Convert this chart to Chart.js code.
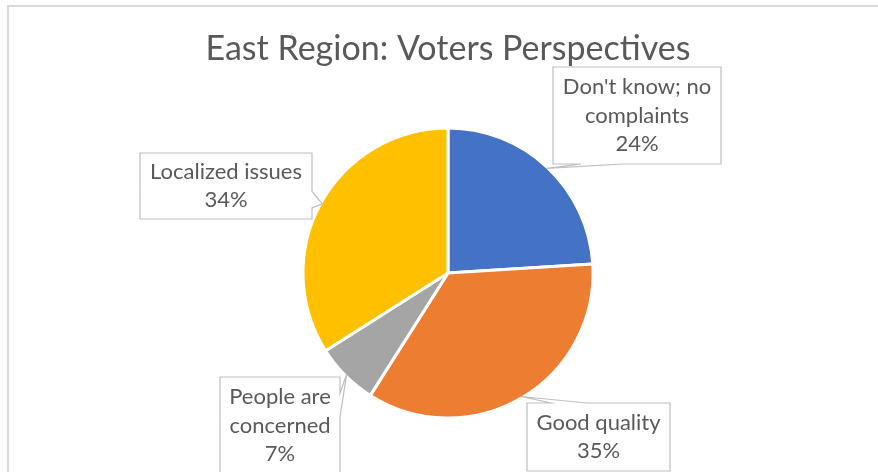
<!DOCTYPE html>
<html>
<head>
<meta charset="utf-8">
<title>East Region: Voters Perspectives</title>
<script src="https://cdn.jsdelivr.net/npm/chart.js@4/dist/chart.umd.min.js"></script>
<style>
  html, body { margin: 0; padding: 0; background: #ffffff; }
  #wrap { width: 878px; height: 472px; }
</style>
</head>
<body>
<div id="wrap"><canvas id="pie" width="878" height="472"></canvas></div>
<script>
// categories (wrapped the way the callouts show them) and shares
const categories = [
    ["Don't know; no", 'complaints'],
    ['Good quality'],
    ['People are', 'concerned'],
    ['Localized issues']
];
const shares = [24, 35, 7, 34];
const sliceColors = ['#4472C4', '#ED7D31', '#A5A5A5', '#FFC000'];
const chartTitle = 'East Region: Voters Perspectives';

// callout boxes, placed relative to the pie centre
const calloutBoxes = [
    { dx: 105, dy: -206, w: 168, h: 97 },
    { dx: 79, dy: 130, w: 143, h: 68 },
    { dx: -228, dy: 104, w: 120, h: 97 },
    { dx: -308, dy: -120, w: 172, h: 66 }
];

const textColor = '#595959';
const fontFamily = 'Lato, "Open Sans", sans-serif';

// wedge-shaped callout: rectangle with a tail pointing at (px, py)
function drawCallout(ctx, x, y, w, h, px, py) {
    const hc = x + w / 2, vc = y + h / 2;
    const dx = px - hc, dy = py - vc;
    const dq = dx * h / w;
    const onTopBottom = Math.abs(dy) > Math.abs(dq);
    const x1 = x + w * (dx > 0 ? 7 : 2) / 12, x2 = x + w * (dx > 0 ? 10 : 5) / 12;
    const y1 = y + h * (dy > 0 ? 7 : 2) / 12, y2 = y + h * (dy > 0 ? 10 : 5) / 12;

    ctx.beginPath();
    ctx.moveTo(x, y);
    if (onTopBottom && dy < 0) { ctx.lineTo(x1, y); ctx.lineTo(px, py); ctx.lineTo(x2, y); }
    ctx.lineTo(x + w, y);
    if (!onTopBottom && dx > 0) { ctx.lineTo(x + w, y1); ctx.lineTo(px, py); ctx.lineTo(x + w, y2); }
    ctx.lineTo(x + w, y + h);
    if (onTopBottom && dy > 0) { ctx.lineTo(x2, y + h); ctx.lineTo(px, py); ctx.lineTo(x1, y + h); }
    ctx.lineTo(x, y + h);
    if (!onTopBottom && dx < 0) { ctx.lineTo(x, y2); ctx.lineTo(px, py); ctx.lineTo(x, y1); }
    ctx.closePath();
    ctx.fillStyle = '#ffffff';
    ctx.fill();
    ctx.lineWidth = 1.2;
    ctx.strokeStyle = '#BFBFBF';
    ctx.stroke();
}

const calloutPlugin = {
    id: 'callouts',
    afterDatasetsDraw(chart) {
        const ctx = chart.ctx;
        const meta = chart.getDatasetMeta(0);
        const data = chart.data.datasets[0].data;
        const total = data.reduce((a, b) => a + b, 0);
        ctx.save();
        meta.data.forEach((arc, i) => {
            const p = arc.getProps(['x', 'y', 'startAngle', 'endAngle', 'outerRadius'], true);
            const mid = (p.startAngle + p.endAngle) / 2;
            const r = p.outerRadius - 1.5;
            const px = p.x + Math.cos(mid) * r;
            const py = p.y + Math.sin(mid) * r;
            const b = calloutBoxes[i];
            const bx = p.x + b.dx, by = p.y + b.dy;
            drawCallout(ctx, bx, by, b.w, b.h, px, py);

            const lines = [].concat(chart.data.labels[i], Math.round(data[i] / total * 100) + '%');
            const lineH = 28.6;
            ctx.fillStyle = textColor;
            ctx.font = '22px ' + fontFamily;
            ctx.textAlign = 'center';
            ctx.textBaseline = 'middle';
            const cy = by + b.h / 2 - (lines.length - 1) * lineH / 2;
            lines.forEach((t, k) => ctx.fillText(t, bx + b.w / 2, cy + k * lineH));
        });
        ctx.restore();
    }
};

// light grey outline of the chart area
const framePlugin = {
    id: 'frame',
    beforeDraw(chart) {
        const ctx = chart.ctx;
        ctx.save();
        ctx.fillStyle = '#ffffff';
        ctx.fillRect(0, 0, chart.width, chart.height);
        ctx.strokeStyle = '#D9D9D9';
        ctx.lineWidth = 2;
        ctx.beginPath();
        ctx.moveTo(8, chart.height + 2);
        ctx.lineTo(8, 6);
        ctx.lineTo(chart.width + 2, 6);
        ctx.stroke();
        ctx.restore();
    }
};

new Chart(document.getElementById('pie'), {
    type: 'pie',
    data: {
        labels: categories,
        datasets: [{
            data: shares,
            backgroundColor: sliceColors,
            borderColor: '#ffffff',
            borderWidth: 3
        }]
    },
    options: {
        responsive: false,
        animation: false,
        radius: 145,
        layout: { padding: { top: 29, bottom: 15.8, left: 18, right: 0 } },
        plugins: {
            legend: { display: false },
            tooltip: { enabled: false },
            title: {
                display: true,
                text: chartTitle,
                color: textColor,
                font: { family: fontFamily, size: 34, weight: 'normal', lineHeight: 1.2 },
                padding: { top: 0, bottom: 20 }
            }
        }
    },
    plugins: [framePlugin, calloutPlugin]
});
</script>
</body>
</html>
